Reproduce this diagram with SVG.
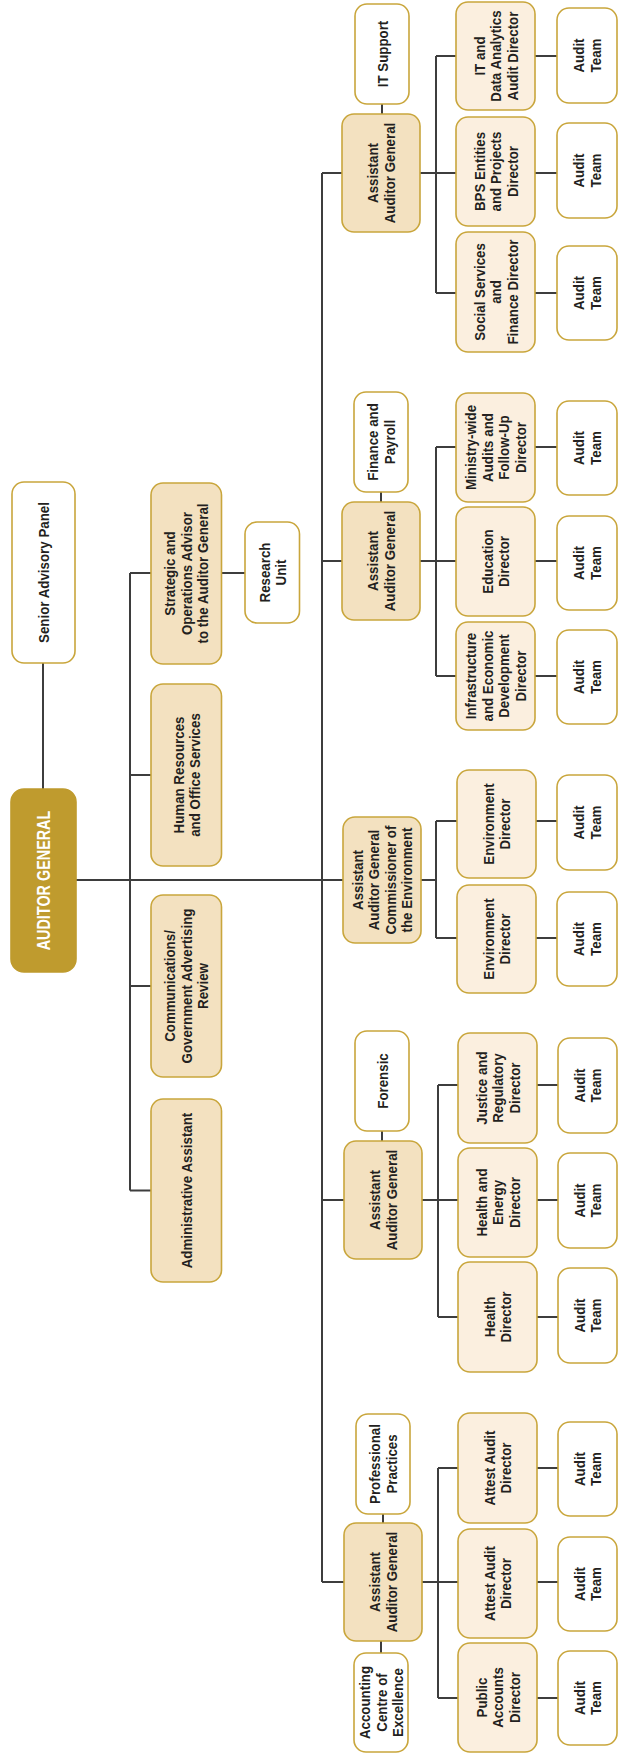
<svg xmlns="http://www.w3.org/2000/svg" width="618" height="1756" viewBox="0 0 618 1756">
<style>
rect{stroke:#c9a63c;stroke-width:1.6}
.ag rect{fill:#bf9b2e;stroke:#bf9b2e}
.tan rect{fill:#f3e1c0}
.dir rect{fill:#fbefdf}
.wht rect{fill:#ffffff}
text{font-family:"Liberation Sans",Arial,sans-serif;font-size:15.5px;font-weight:bold;fill:#231f20;text-anchor:middle}
.ag text{fill:#ffffff;font-size:18px}
#conn path{fill:none;stroke:#3d3d3d;stroke-width:2}
</style>
<g id="conn">
<path d="M43 663V789M76 880H343M130 573V1190.5M130 573H151M221.5 573H245M130 775H151M130 986H151M130 1190.5H151"/>
<path d="M322 173V1582M322 173H342M322 561H342M322 1200H344M322 1582H344"/>
<path d="M382 104V114M381 492V502M382 1131V1141M383 1514V1523M381 1641V1653"/>
<path d="M420 173H456M436 56V293M436 56H456M436 293H456"/>
<path d="M420 561H456M436 447V676M436 447H456M436 676H456"/>
<path d="M421 880H436M436 821V938M436 821H457M436 938H457"/>
<path d="M422 1200H458M438 1085V1317M438 1085H458M438 1317H458"/>
<path d="M422 1582H458M438 1468V1698M438 1468H458M438 1698H458"/>
<path d="M535 56H557M535 173H557M535 293H557M535 447H557M535 561H557M535 676H557M536 821H557M536 938H557M537 1085H558M537 1200H558M537 1317H558M537 1468H558M537 1582H558M537 1698H558"/>
</g>
<g id="auditor-general" class="ag"><rect x="11" y="789" width="65" height="183" rx="13"/><text transform="translate(43.5,880.5) rotate(-90) scale(0.8,1)"><tspan x="0" y="6.5">AUDITOR GENERAL</tspan></text></g>
<g id="senior-advisory" class="wht"><rect x="12" y="482" width="63" height="181" rx="12"/><text transform="translate(43.5,572.5) rotate(-90) scale(0.86,1)"><tspan x="0" y="5.6">Senior Advisory Panel</tspan></text></g>
<g id="strategic" class="tan"><rect x="151" y="483" width="70.5" height="181" rx="12"/><text transform="translate(186.25,573.5) rotate(-90) scale(0.86,1)"><tspan x="0" y="-10.9">Strategic and</tspan><tspan x="0" y="5.6">Operations Advisor</tspan><tspan x="0" y="22.1">to the Auditor General</tspan></text></g>
<g id="research" class="wht"><rect x="245" y="522" width="54.5" height="101" rx="12"/><text transform="translate(272.25,572.5) rotate(-90) scale(0.86,1)"><tspan x="0" y="-2.65">Research</tspan><tspan x="0" y="13.85">Unit</tspan></text></g>
<g id="hr" class="tan"><rect x="151" y="684" width="70.5" height="182" rx="12"/><text transform="translate(186.25,775) rotate(-90) scale(0.86,1)"><tspan x="0" y="-2.65">Human Resources</tspan><tspan x="0" y="13.85">and Office Services</tspan></text></g>
<g id="comms" class="tan"><rect x="151" y="895" width="70.5" height="182" rx="12"/><text transform="translate(186.25,986) rotate(-90) scale(0.86,1)"><tspan x="0" y="-10.9">Communications/</tspan><tspan x="0" y="5.6">Government Advertising</tspan><tspan x="0" y="22.1">Review</tspan></text></g>
<g id="admin" class="tan"><rect x="151" y="1099" width="70.5" height="183" rx="12"/><text transform="translate(186.25,1190.5) rotate(-90) scale(0.86,1)"><tspan x="0" y="5.6">Administrative Assistant</tspan></text></g>

<g id="aag1" class="tan"><rect x="342" y="114" width="78" height="118" rx="12"/><text transform="translate(381,173) rotate(-90) scale(0.86,1)"><tspan x="0" y="-2.65">Assistant</tspan><tspan x="0" y="13.85">Auditor General</tspan></text></g>
<g id="it-support" class="wht"><rect x="355" y="4" width="54" height="100" rx="12"/><text transform="translate(382,54) rotate(-90) scale(0.86,1)"><tspan x="0" y="5.6">IT Support</tspan></text></g>
<g id="aag2" class="tan"><rect x="342" y="502" width="78" height="118" rx="12"/><text transform="translate(381,561) rotate(-90) scale(0.86,1)"><tspan x="0" y="-2.65">Assistant</tspan><tspan x="0" y="13.85">Auditor General</tspan></text></g>
<g id="finance" class="wht"><rect x="354" y="392" width="54" height="100" rx="12"/><text transform="translate(381,442) rotate(-90) scale(0.86,1)"><tspan x="0" y="-2.65">Finance and</tspan><tspan x="0" y="13.85">Payroll</tspan></text></g>
<g id="aag3" class="tan"><rect x="343" y="817" width="78" height="126" rx="12"/><text transform="translate(382,880) rotate(-90) scale(0.86,1)"><tspan x="0" y="-19.15">Assistant</tspan><tspan x="0" y="-2.65">Auditor General</tspan><tspan x="0" y="13.85">Commissioner of</tspan><tspan x="0" y="30.35">the Environment</tspan></text></g>
<g id="aag4" class="tan"><rect x="344" y="1141" width="78" height="118" rx="12"/><text transform="translate(383,1200) rotate(-90) scale(0.86,1)"><tspan x="0" y="-2.65">Assistant</tspan><tspan x="0" y="13.85">Auditor General</tspan></text></g>
<g id="forensic" class="wht"><rect x="355" y="1031" width="54" height="100" rx="12"/><text transform="translate(382,1081) rotate(-90) scale(0.86,1)"><tspan x="0" y="5.6">Forensic</tspan></text></g>
<g id="aag5" class="tan"><rect x="344" y="1523" width="78" height="118" rx="12"/><text transform="translate(383,1582) rotate(-90) scale(0.86,1)"><tspan x="0" y="-2.65">Assistant</tspan><tspan x="0" y="13.85">Auditor General</tspan></text></g>
<g id="prof-practices" class="wht"><rect x="356" y="1414" width="54" height="100" rx="12"/><text transform="translate(383,1464) rotate(-90) scale(0.86,1)"><tspan x="0" y="-2.65">Professional</tspan><tspan x="0" y="13.85">Practices</tspan></text></g>
<g id="accounting" class="wht"><rect x="354" y="1653" width="54" height="99" rx="12"/><text transform="translate(381,1702.5) rotate(-90) scale(0.86,1)"><tspan x="0" y="-10.9">Accounting</tspan><tspan x="0" y="5.6">Centre of</tspan><tspan x="0" y="22.1">Excellence</tspan></text></g>

<g id="dir-it" class="dir"><rect x="456" y="2" width="79" height="108" rx="12"/><text transform="translate(495.5,56) rotate(-90) scale(0.86,1)"><tspan x="0" y="-10.9">IT and</tspan><tspan x="0" y="5.6">Data Analytics</tspan><tspan x="0" y="22.1">Audit Director</tspan></text></g>
<g id="dir-bps" class="dir"><rect x="456" y="117" width="79" height="109" rx="12"/><text transform="translate(495.5,171.5) rotate(-90) scale(0.86,1)"><tspan x="0" y="-10.9">BPS Entities</tspan><tspan x="0" y="5.6">and Projects</tspan><tspan x="0" y="22.1">Director</tspan></text></g>
<g id="dir-social" class="dir"><rect x="456" y="232" width="79" height="120" rx="12"/><text transform="translate(495.5,292) rotate(-90) scale(0.86,1)"><tspan x="0" y="-10.9">Social Services</tspan><tspan x="0" y="5.6">and</tspan><tspan x="0" y="22.1">Finance Director</tspan></text></g>
<g id="dir-ministry" class="dir"><rect x="456" y="393" width="79" height="109" rx="12"/><text transform="translate(495.5,447.5) rotate(-90) scale(0.86,1)"><tspan x="0" y="-19.15">Ministry-wide</tspan><tspan x="0" y="-2.65">Audits and</tspan><tspan x="0" y="13.85">Follow-Up</tspan><tspan x="0" y="30.35">Director</tspan></text></g>
<g id="dir-education" class="dir"><rect x="456" y="507" width="79" height="109" rx="12"/><text transform="translate(495.5,561.5) rotate(-90) scale(0.86,1)"><tspan x="0" y="-2.65">Education</tspan><tspan x="0" y="13.85">Director</tspan></text></g>
<g id="dir-infra" class="dir"><rect x="456" y="622" width="79" height="108" rx="12"/><text transform="translate(495.5,676) rotate(-90) scale(0.86,1)"><tspan x="0" y="-19.15">Infrastructure</tspan><tspan x="0" y="-2.65">and Economic</tspan><tspan x="0" y="13.85">Development</tspan><tspan x="0" y="30.35">Director</tspan></text></g>
<g id="dir-env1" class="dir"><rect x="457" y="770" width="79" height="108" rx="12"/><text transform="translate(496.5,824) rotate(-90) scale(0.86,1)"><tspan x="0" y="-2.65">Environment</tspan><tspan x="0" y="13.85">Director</tspan></text></g>
<g id="dir-env2" class="dir"><rect x="457" y="885" width="79" height="108" rx="12"/><text transform="translate(496.5,939) rotate(-90) scale(0.86,1)"><tspan x="0" y="-2.65">Environment</tspan><tspan x="0" y="13.85">Director</tspan></text></g>
<g id="dir-justice" class="dir"><rect x="458" y="1033" width="79" height="110" rx="12"/><text transform="translate(497.5,1088) rotate(-90) scale(0.86,1)"><tspan x="0" y="-10.9">Justice and</tspan><tspan x="0" y="5.6">Regulatory</tspan><tspan x="0" y="22.1">Director</tspan></text></g>
<g id="dir-health-energy" class="dir"><rect x="458" y="1148" width="79" height="109" rx="12"/><text transform="translate(497.5,1202.5) rotate(-90) scale(0.86,1)"><tspan x="0" y="-10.9">Health and</tspan><tspan x="0" y="5.6">Energy</tspan><tspan x="0" y="22.1">Director</tspan></text></g>
<g id="dir-health" class="dir"><rect x="458" y="1262" width="79" height="110" rx="12"/><text transform="translate(497.5,1317) rotate(-90) scale(0.86,1)"><tspan x="0" y="-2.65">Health</tspan><tspan x="0" y="13.85">Director</tspan></text></g>
<g id="dir-attest1" class="dir"><rect x="458" y="1413" width="79" height="110" rx="12"/><text transform="translate(497.5,1468) rotate(-90) scale(0.86,1)"><tspan x="0" y="-2.65">Attest Audit</tspan><tspan x="0" y="13.85">Director</tspan></text></g>
<g id="dir-attest2" class="dir"><rect x="458" y="1529" width="79" height="109" rx="12"/><text transform="translate(497.5,1583.5) rotate(-90) scale(0.86,1)"><tspan x="0" y="-2.65">Attest Audit</tspan><tspan x="0" y="13.85">Director</tspan></text></g>
<g id="dir-public" class="dir"><rect x="458" y="1643" width="79" height="109" rx="12"/><text transform="translate(497.5,1697.5) rotate(-90) scale(0.86,1)"><tspan x="0" y="-10.9">Public</tspan><tspan x="0" y="5.6">Accounts</tspan><tspan x="0" y="22.1">Director</tspan></text></g>

<g id="team1" class="wht"><rect x="557" y="8" width="60" height="95" rx="12"/><text transform="translate(587,55.5) rotate(-90) scale(0.86,1)"><tspan x="0" y="-2.65">Audit</tspan><tspan x="0" y="13.85">Team</tspan></text></g>
<g id="team2" class="wht"><rect x="557" y="123" width="60" height="95" rx="12"/><text transform="translate(587,170.5) rotate(-90) scale(0.86,1)"><tspan x="0" y="-2.65">Audit</tspan><tspan x="0" y="13.85">Team</tspan></text></g>
<g id="team3" class="wht"><rect x="557" y="246" width="60" height="94" rx="12"/><text transform="translate(587,293) rotate(-90) scale(0.86,1)"><tspan x="0" y="-2.65">Audit</tspan><tspan x="0" y="13.85">Team</tspan></text></g>
<g id="team4" class="wht"><rect x="557" y="401" width="60" height="94" rx="12"/><text transform="translate(587,448) rotate(-90) scale(0.86,1)"><tspan x="0" y="-2.65">Audit</tspan><tspan x="0" y="13.85">Team</tspan></text></g>
<g id="team5" class="wht"><rect x="557" y="516" width="60" height="94" rx="12"/><text transform="translate(587,563) rotate(-90) scale(0.86,1)"><tspan x="0" y="-2.65">Audit</tspan><tspan x="0" y="13.85">Team</tspan></text></g>
<g id="team6" class="wht"><rect x="557" y="630" width="60" height="94" rx="12"/><text transform="translate(587,677) rotate(-90) scale(0.86,1)"><tspan x="0" y="-2.65">Audit</tspan><tspan x="0" y="13.85">Team</tspan></text></g>
<g id="team7" class="wht"><rect x="557" y="775" width="60" height="95" rx="12"/><text transform="translate(587,822.5) rotate(-90) scale(0.86,1)"><tspan x="0" y="-2.65">Audit</tspan><tspan x="0" y="13.85">Team</tspan></text></g>
<g id="team8" class="wht"><rect x="557" y="892" width="60" height="94" rx="12"/><text transform="translate(587,939) rotate(-90) scale(0.86,1)"><tspan x="0" y="-2.65">Audit</tspan><tspan x="0" y="13.85">Team</tspan></text></g>
<g id="team9" class="wht"><rect x="558" y="1038" width="59" height="95" rx="12"/><text transform="translate(587.5,1085.5) rotate(-90) scale(0.86,1)"><tspan x="0" y="-2.65">Audit</tspan><tspan x="0" y="13.85">Team</tspan></text></g>
<g id="team10" class="wht"><rect x="558" y="1153" width="59" height="95" rx="12"/><text transform="translate(587.5,1200.5) rotate(-90) scale(0.86,1)"><tspan x="0" y="-2.65">Audit</tspan><tspan x="0" y="13.85">Team</tspan></text></g>
<g id="team11" class="wht"><rect x="558" y="1268" width="59" height="95" rx="12"/><text transform="translate(587.5,1315.5) rotate(-90) scale(0.86,1)"><tspan x="0" y="-2.65">Audit</tspan><tspan x="0" y="13.85">Team</tspan></text></g>
<g id="team12" class="wht"><rect x="558" y="1422" width="59" height="94" rx="12"/><text transform="translate(587.5,1469) rotate(-90) scale(0.86,1)"><tspan x="0" y="-2.65">Audit</tspan><tspan x="0" y="13.85">Team</tspan></text></g>
<g id="team13" class="wht"><rect x="558" y="1537" width="59" height="94" rx="12"/><text transform="translate(587.5,1584) rotate(-90) scale(0.86,1)"><tspan x="0" y="-2.65">Audit</tspan><tspan x="0" y="13.85">Team</tspan></text></g>
<g id="team14" class="wht"><rect x="558" y="1651" width="59" height="94" rx="12"/><text transform="translate(587.5,1698) rotate(-90) scale(0.86,1)"><tspan x="0" y="-2.65">Audit</tspan><tspan x="0" y="13.85">Team</tspan></text></g>
</svg>
